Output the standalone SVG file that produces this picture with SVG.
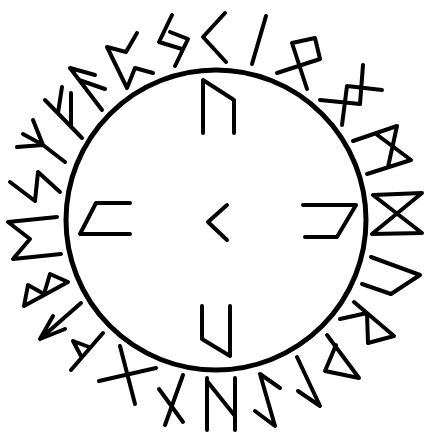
<svg xmlns="http://www.w3.org/2000/svg" width="424" height="432" viewBox="0 0 424 432">
<style>
.r{fill:none;stroke:#000;stroke-width:4;stroke-linecap:round;stroke-linejoin:round}
.c{fill:none;stroke:#000;stroke-width:5}
</style>
<rect width="424" height="432" fill="#fff"/>
<circle id="ring" class="c" cx="216" cy="220" r="150"/>
<g id="inner">
<g id="in-top"><path class="r" d="M203,133 L203,80 L234,100 L234,133"/></g>
<g id="in-left"><path class="r" d="M130,203 L96,203 L80,234 L130,234"/></g>
<g id="in-right"><path class="r" d="M303,205 L356,205 L337,237 L305,237"/></g>
<g id="in-bottom"><path class="r" d="M202,306 L202,339 L230,356 L230,306"/></g>
<g id="in-center"><path class="r" d="M227,205 L208,222 L227,240"/></g>
</g>
<g id="outer">
<g id="o1"><path class="r" d="M225,13 L203,37 L226,62"/></g>
<g id="o2"><path class="r" d="M266,16 L252,64"/></g>
<g id="o3"><path class="r" d="M307,89 L292,43 L315,38 L320,59 L277,73"/></g>
<g id="o4"><path class="r" d="M347,86 L382,90 M363,65 L360,104 M320,100 L360,104 M347,86 L342,125"/></g>
<g id="o5"><path class="r" d="M353,141 L397,126 L388,167 M376,134 L411,160 L367,174"/></g>
<g id="o6"><path class="r" d="M373,195 L422,193 L372,234 L422,233 Z"/></g>
<g id="o7"><path class="r" d="M371,257 L420,275 L391,294 L362,284"/></g>
<g id="o8"><path class="r" d="M354,302 L394,336 L368,343 L367,313 M340,319 L367,313"/></g>
<g id="o9"><path class="r" d="M327,335 L359,378 L325,371 L336,345"/></g>
<g id="o10"><path class="r" d="M297,357 L320,406 L298,391"/></g>
<g id="o11"><path class="r" d="M280,388 L260,374 L275,426 L255,411"/></g>
<g id="o12"><path class="r" d="M207,378 L207,430 M207,381 L235,416 M235,378 L235,430"/></g>
<g id="o13"><path class="r" d="M183,375 L165,425 M159,389 L183,422"/></g>
<g id="o14"><path class="r" d="M99,381 L156,368 M120,346 L135,404"/></g>
<g id="o15"><path class="r" d="M103,333 L71,370 M73,341 L89,347 M73,341 L81,356"/></g>
<g id="o16"><path class="r" d="M81,303 L40,339 M53,316 L40,339 L65,329"/></g>
<g id="o17"><path class="r" d="M24,306 L68,282 L50,274 L44,294 L28,285 L24,306"/></g>
<g id="o18"><path class="r" d="M57,217 L8,222 L30,239 L13,259 L61,254"/></g>
<g id="o19"><path class="r" d="M10,182 L35,201 L38,172 L60,192"/></g>
<g id="o20"><path class="r" d="M65,162 L43,145 L17,147 M43,145 L23,134 M43,145 L33,120"/></g>
<g id="o21"><path class="r" d="M45,100 L82,138 M62,87 L58,113 M71,93 L71,127"/></g>
<g id="o22"><path class="r" d="M102,110 L70,68 L95,75 M79,80 L105,89"/></g>
<g id="o23"><path class="r" d="M137,33 L126,52 L107,47 L127,88 L135,68 L153,73"/></g>
<g id="o24"><path class="r" d="M172,15 L159,42 L182,49 M170,32 L188,39 L175,66"/></g>
</g>
</svg>
